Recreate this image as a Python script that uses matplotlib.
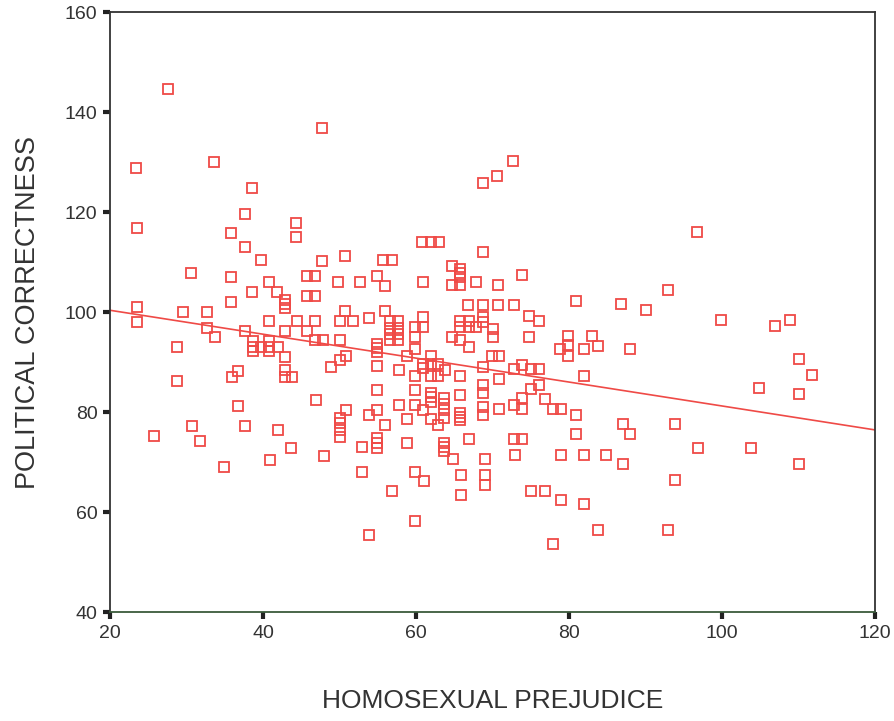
import numpy as np
import matplotlib
matplotlib.use("Agg")
import matplotlib.pyplot as plt

prejudice = [27.6, 23.4, 33.6, 38.6, 23.5, 37.6, 35.8, 37.6, 39.7, 44.3, 44.3, 47.7, 68.8, 68.8,
             60.8, 62.0, 63.0, 50.7, 47.7, 55.7, 56.8, 72.7, 70.6, 96.7,
             30.6, 35.8, 40.8, 38.6, 41.8, 42.9, 42.9, 42.9, 23.5, 35.8, 29.5, 32.7, 23.5, 40.8,
             44.5, 32.7, 37.6, 42.9, 33.7, 38.7, 40.8, 38.7, 39.8, 40.8, 41.9, 38.7, 40.8, 42.9,
             28.7, 42.9, 36.7, 35.9, 42.9, 43.8, 28.8, 36.7, 30.7, 37.7, 42.0, 25.7, 31.8, 43.7,
             34.9, 40.9,
             64.7, 65.8, 65.8, 65.8, 65.8, 64.7, 67.8, 45.7, 46.8, 49.8, 52.7, 54.9, 56.0, 60.9,
             45.7, 46.8, 66.8, 68.8, 50.7, 55.9, 46.8, 50.0, 51.8, 53.8, 56.6, 57.7, 60.9, 60.9,
             59.8, 56.6, 57.7, 56.6, 57.7, 56.6, 57.7, 59.8, 65.8, 66.9, 65.8, 66.9, 67.8, 68.8,
             64.7, 65.8, 66.9, 45.8, 46.8, 47.9, 50.0, 54.9, 54.9, 54.9, 59.8, 50.8, 50.0, 48.9,
             54.9, 58.8, 61.9, 60.9, 60.9, 61.9, 61.9, 62.9, 62.9, 57.8, 59.8, 63.8, 65.8, 68.8,
             54.9, 59.8, 61.9, 61.9, 61.9, 63.7, 63.7, 63.7, 63.7, 65.8, 68.8, 68.8, 68.8, 68.8,
             65.8, 65.8, 65.8, 46.9, 50.8, 50.0, 50.0, 50.0, 50.0, 53.8, 54.9, 57.8, 59.8, 60.9,
             58.8, 56.0, 61.9, 62.9, 66.9, 54.9, 54.9, 54.9, 52.9, 58.8, 63.7, 63.7, 63.7,
             48.0, 64.8, 69.0, 52.9, 59.9, 61.0, 65.9, 69.0, 69.0, 56.8, 65.9, 59.9, 53.9,
             73.8, 70.7, 92.9, 70.7, 72.8, 80.9, 86.8, 90.0, 68.8, 74.8, 76.0, 70.0, 70.0, 74.8,
             79.8, 79.8, 79.8, 78.8, 83.0, 83.8, 82.0, 87.9, 69.9, 70.8, 72.8, 73.8, 75.0, 76.1,
             70.8, 82.0, 76.1, 75.0, 73.9, 72.8, 73.9, 76.8, 77.9, 79.0, 70.8, 80.9, 87.0, 88.0,
             93.9, 80.9, 72.8, 73.8,
             72.9, 78.9, 82.0, 84.8, 87.0, 75.0, 76.9, 78.9, 82.0, 83.8, 92.9, 77.9, 93.9,
             96.8, 103.8, 110.0,
             99.9, 106.9, 108.9, 110.0, 111.7, 104.8, 110.0]

correctness = [144.7, 128.8, 130.0, 124.9, 116.9, 119.7, 115.8, 113.1, 110.5, 117.8, 115.1, 136.9, 125.9, 112.1,
               114.0, 114.0, 114.0, 111.3, 110.2, 110.5, 110.5, 130.3, 127.2, 116.1,
               107.9, 107.1, 106.0, 104.1, 104.1, 102.4, 101.6, 100.9, 101.1, 102.1, 100.1, 100.1, 98.1, 98.2,
               98.2, 96.9, 96.2, 96.2, 95.0, 94.3, 94.3, 93.1, 93.1, 93.1, 93.1, 92.3, 92.3, 91.1,
               93.0, 88.5, 88.3, 87.1, 87.1, 87.1, 86.3, 81.3, 77.3, 77.3, 76.5, 75.3, 74.3, 72.8,
               69.1, 70.5,
               109.3, 108.6, 107.8, 107.1, 105.5, 105.5, 106.1, 107.3, 107.3, 106.0, 106.0, 107.3, 105.3, 106.0,
               103.3, 103.3, 101.5, 101.5, 100.3, 100.3, 98.3, 98.3, 98.3, 98.9, 98.3, 98.3, 99.1, 97.1,
               97.1, 96.9, 96.9, 95.7, 95.7, 94.5, 94.5, 95.1, 98.3, 98.3, 97.1, 97.1, 97.1, 99.1,
               95.1, 94.5, 93.1, 96.3, 94.5, 94.5, 94.5, 93.6, 92.8, 92.1, 92.6, 91.3, 90.5, 89.1,
               89.3, 91.3, 91.3, 89.6, 88.8, 89.6, 87.3, 89.6, 87.3, 88.5, 87.3, 88.5, 87.3, 89.1,
               84.5, 84.5, 83.8, 83.1, 82.1, 82.8, 81.7, 80.5, 78.8, 83.5, 85.5, 83.8, 81.1, 79.5,
               79.8, 79.1, 78.5, 82.5, 80.5, 78.8, 77.8, 76.5, 75.1, 79.5, 80.5, 81.5, 81.5, 80.5,
               78.6, 77.5, 78.6, 77.5, 74.6, 74.8, 73.8, 72.8, 73.0, 73.8, 73.9, 73.1, 72.3,
               71.3, 70.7, 70.7, 68.1, 68.1, 66.3, 67.5, 67.5, 65.5, 64.3, 63.5, 58.3, 55.4,
               107.5, 105.5, 104.5, 101.5, 101.5, 102.3, 101.6, 100.5, 98.1, 99.3, 98.3, 96.6, 95.0, 95.1,
               95.3, 93.5, 91.3, 92.6, 95.3, 93.3, 92.6, 92.6, 91.3, 91.3, 88.6, 89.5, 88.6, 88.6,
               86.6, 87.3, 85.5, 84.7, 82.8, 81.5, 80.6, 82.6, 80.6, 80.6, 80.6, 79.5, 77.6, 75.6,
               77.7, 75.6, 74.6, 74.6,
               71.5, 71.5, 71.5, 71.5, 69.6, 64.3, 64.3, 62.5, 61.6, 56.5, 56.5, 53.6, 66.5,
               72.8, 72.8, 69.7,
               98.5, 97.3, 98.5, 90.7, 87.5, 84.8, 83.7]

x_ticks = [20, 40, 60, 80, 100, 120]
y_ticks = [40, 60, 80, 100, 120, 140, 160]

x = np.array(prejudice)
y = np.array(correctness)
slope, intercept = np.polyfit(x, y, 1)

red = "#ef4a46"
plt.rcParams['font.family'] = ['Liberation Sans', 'DejaVu Sans']
fig = plt.figure(figsize=(8.94, 7.21), dpi=100)
ax = fig.add_axes([0.123, 0.151, 0.856, 0.832])

ax.plot(x, y, linestyle='none', marker='s', markersize=6.6, markerfacecolor='none',
        markeredgecolor=red, markeredgewidth=1.3)
xl = np.array([20, 120])
ax.plot(xl, intercept + slope * xl, color=red, linewidth=1.2)

ax.set_xlim(20, 120)
ax.set_ylim(40, 160)
ax.set_xticks(x_ticks)
ax.set_yticks(y_ticks)
ax.tick_params(direction='out', length=5, width=3, color='#222222',
               labelsize=14, labelcolor='#333333', pad=4)
for s in ax.spines.values():
    s.set_color('#333333')
    s.set_linewidth(1.3)
ax.spines['bottom'].set_color('#3a5a3a')

ax.set_xlabel('HOMOSEXUAL PREJUDICE', fontsize=19, color='#333333', labelpad=34)
ax.set_ylabel('POLITICAL CORRECTNESS', fontsize=19.5, color='#333333', labelpad=17)

fig.savefig('out.png', dpi=100)
